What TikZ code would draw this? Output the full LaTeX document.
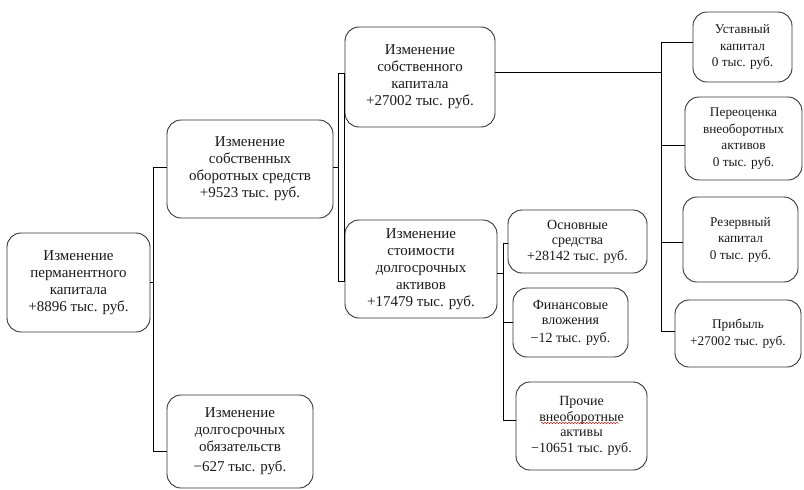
\documentclass[tikz,border=0pt]{standalone}
\usepackage{fontspec}
\setmainfont{Liberation Serif}
\usetikzlibrary{decorations.pathmorphing}
\tikzset{
  box/.style={draw=black!80, line width=0.9pt, rounded corners=14pt, align=center, inner sep=2pt, text=black!90},
  big/.style={font=\fontsize{15}{17}\selectfont},
  mid/.style={font=\fontsize{14}{15.5}\selectfont},
  small/.style={font=\fontsize{13.3}{16.5}\selectfont},
  conn/.style={draw=black, line width=0.8pt},
}
\newcommand{\bx}[7]{% name, x1, y1, x2, y2, style, text
  \node[box,#6, minimum width={#4pt-#2pt}, minimum height={#5pt-#3pt}] (#1) at ({(#2+#4)/2},{(#3+#5)/2}) {#7};}
\begin{document}
\begin{tikzpicture}[x=1pt,y=-1pt]
\useasboundingbox (0,0) rectangle (804,490);
\bx{A}{7}{233}{150}{332}{big}{Изменение\\перманентного\\капитала\\+8896 тыс. руб.}
\bx{B}{167}{120}{333}{218}{big}{Изменение\\собственных\\оборотных средств\\+9523 тыс. руб.}
\bx{C}{167}{395}{313}{488}{big}{Изменение\\долгосрочных\\обязательств\\[3pt]−627 тыс. руб.}
\bx{D}{345}{27}{495}{127}{big}{Изменение\\собственного\\капитала\\+27002 тыс. руб.}
\bx{E}{345}{220}{497}{318}{big}{Изменение\\стоимости\\долгосрочных\\активов\\+17479 тыс. руб.}
\bx{F}{508}{210}{647}{273}{mid}{Основные\\средства\\+28142 тыс. руб.}
\bx{G}{513}{288}{628}{357}{mid}{Финансовые\\вложения\\[2pt]−12 тыс. руб.}
\bx{H}{516}{382}{647}{470}{mid}{Прочие\\внеоборотные\\активы\\−10651 тыс. руб.}
\bx{I}{693}{12}{792}{82}{small}{Уставный\\капитал\\0 тыс. руб.}
\bx{J}{685}{97}{802}{180}{small}{Переоценка\\внеоборотных\\активов\\0 тыс. руб.}
\bx{K}{683}{197}{798}{282}{small}{Резервный\\капитал\\0 тыс. руб.}
\bx{L}{675}{300}{801}{367}{small}{Прибыль\\+27002 тыс. руб.}
% spell-check underline
\draw[red!80!black, line width=0.5pt, decorate, decoration={snake, amplitude=0.6pt, segment length=3pt}] (541,423) -- (619,423);
% left bus
\coordinate (b1t) at (153,167);
\coordinate (b1b) at (153,451);
\draw[conn] (b1t) -- (b1b);
\draw[conn] (A.east) -- (A.east -| b1t);
\draw[conn] (b1t) -- (b1t -| B.west);
\draw[conn] (b1b) -- (b1b -| C.west);
% middle bracket
\coordinate (b2t) at (338,73);
\coordinate (b2b) at (338,281);
\draw[conn] ([yshift=2pt]B.east) -- ([yshift=2pt]B.east -| b2t);
\draw[conn] (b2t) -- (b2b);
\draw[conn] (b2t) -- (b2t -| D.west) -- (b2b -| D.west) -- (b2b);
% bus to F G H
\coordinate (b3t) at (503,243);
\coordinate (b3b) at (503,420);
\draw[conn] ([yshift=-4pt]E.east) -- ([yshift=-4pt]E.east -| b3t);
\draw[conn] (b3t) -- (b3b);
\draw[conn] (b3t) -- (b3t -| F.west);
\draw[conn] ([yshift=0.5pt]G.west -| b3t) -- ([yshift=0.5pt]G.west);
\draw[conn] (b3b) -- (b3b -| H.west);
% right bus
\coordinate (b4t) at (661,42);
\coordinate (b4b) at (661,331);
\draw[conn] ([yshift=4.5pt]D.east) -- ([yshift=4.5pt]D.east -| b4t);
\draw[conn] (b4t) -- (b4b);
\draw[conn] (b4t) -- (b4t -| I.west);
\draw[conn] ([yshift=-6.5pt]J.west -| b4t) -- ([yshift=-6.5pt]J.west);
\draw[conn] ([yshift=-2.5pt]K.west -| b4t) -- ([yshift=-2.5pt]K.west);
\draw[conn] (b4b) -- (b4b -| L.west);
\end{tikzpicture}
\end{document}
